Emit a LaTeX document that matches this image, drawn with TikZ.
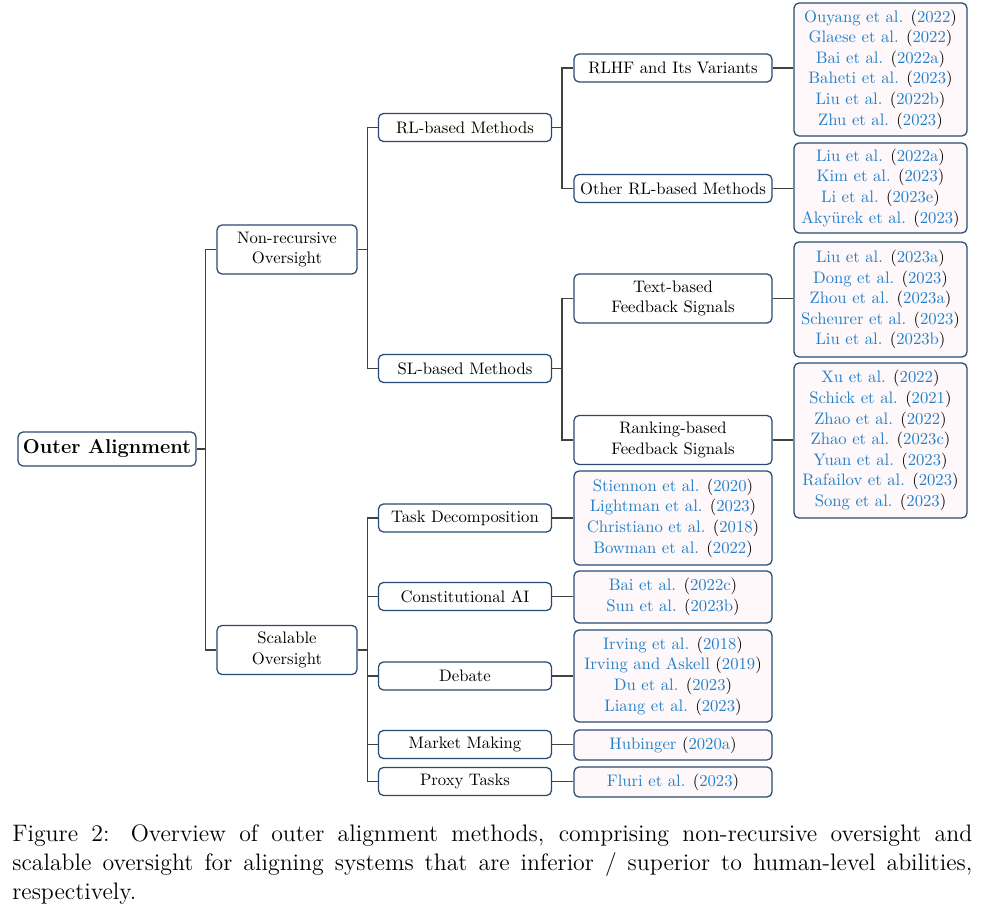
\documentclass[tikz,border=0pt]{standalone}
\usepackage{xcolor}
\definecolor{cb}{RGB}{35,128,200}
\definecolor{bd}{RGB}{40,75,115}
\definecolor{lf}{RGB}{254,248,250}
\definecolor{eg}{RGB}{65,65,65}
\newcommand{\ct}[2]{\textcolor{cb}{#1} (\textcolor{cb}{#2})}
\begin{document}
\begin{tikzpicture}[x=0.6pt,y=-0.6pt,
  every node/.style={font=\fontsize{10}{12.36}\selectfont},
  box/.style={draw=bd, line width=0.75pt, rounded corners=3pt, fill=white, align=center, inner sep=0pt},
  root/.style={box, minimum width=106.8pt, minimum height=20.4pt, font=\fontsize{12}{14}\selectfont\bfseries},
  lvone/.style={box, minimum width=84pt, minimum height=29.4pt},
  lvtwo/.style={box, minimum width=103.8pt, minimum height=16.8pt},
  lvthree/.style={box, minimum width=118.8pt},
  leafR/.style={box, fill=lf, minimum width=103.8pt},
  leafM/.style={box, fill=lf, minimum width=118.8pt},
  edge/.style={draw=eg, line width=0.8pt}
]
\useasboundingbox (0,0) rectangle (986,913);

% root and level 1
\node[root] (oa) at (107,449) {Outer Alignment};
\node[lvone] (nr) at (287,249.5) {Non-recursive\\Oversight};
\node[lvone] (so) at (287,650) {Scalable\\Oversight};

% level 2
\node[lvtwo] (rl) at (465,127.5) {RL-based Methods};
\node[lvtwo] (sl) at (465,368.5) {SL-based Methods};
\node[lvtwo] (td) at (465,518) {Task Decomposition};
\node[lvtwo] (ca) at (465,596.5) {Constitutional AI};
\node[lvtwo] (db) at (465,676) {Debate};
\node[lvtwo] (mm) at (465,744.5) {Market Making};
\node[lvtwo] (pt) at (465,781.5) {Proxy Tasks};

% level 3
\node[lvthree, minimum height=16.8pt] (rlhf) at (673,68) {RLHF and Its Variants};
\node[lvthree, minimum height=16.8pt] (orl) at (673,188.5) {Other RL-based Methods};
\node[lvthree, minimum height=29.4pt] (tb) at (673,298.5) {Text-based\\Feedback Signals};
\node[lvthree, minimum height=29.4pt] (rb) at (673,440) {Ranking-based\\Feedback Signals};

% leaves, right column
\node[leafR, minimum height=79.8pt] (l1) at (880.5,69.5) {\ct{Ouyang et al.}{2022}\\\ct{Glaese et al.}{2022}\\\ct{Bai et al.}{2022a}\\\ct{Baheti et al.}{2023}\\\ct{Liu et al.}{2022b}\\\ct{Zhu et al.}{2023}};
\node[leafR, minimum height=54pt] (l2) at (880.5,188) {\ct{Liu et al.}{2022a}\\\ct{Kim et al.}{2023}\\\ct{Li et al.}{2023e}\\\ct{Aky\"urek et al.}{2023}};
\node[leafR, minimum height=69pt] (l3) at (880.5,299.5) {\ct{Liu et al.}{2023a}\\\ct{Dong et al.}{2023}\\\ct{Zhou et al.}{2023a}\\\ct{Scheurer et al.}{2023}\\\ct{Liu et al.}{2023b}};
\node[leafR, minimum height=93pt] (l4) at (880.5,440.5) {\ct{Xu et al.}{2022}\\\ct{Schick et al.}{2021}\\\ct{Zhao et al.}{2022}\\\ct{Zhao et al.}{2023c}\\\ct{Yuan et al.}{2023}\\\ct{Rafailov et al.}{2023}\\\ct{Song et al.}{2023}};

% leaves, middle column
\node[leafM, minimum height=56.4pt] (l5) at (673,518) {\ct{Stiennon et al.}{2020}\\\ct{Lightman et al.}{2023}\\\ct{Christiano et al.}{2018}\\\ct{Bowman et al.}{2022}};
\node[leafM, minimum height=31.2pt] (l6) at (673,597) {\ct{Bai et al.}{2022c}\\\ct{Sun et al.}{2023b}};
\node[leafM, minimum height=55.2pt] (l7) at (673,676) {\ct{Irving et al.}{2018}\\\ct{Irving and Askell}{2019}\\\ct{Du et al.}{2023}\\\ct{Liang et al.}{2023}};
\node[leafM, minimum height=18pt] (l8) at (673,745) {\ct{Hubinger}{2020a}};
\node[leafM, minimum height=18pt] (l9) at (673,782) {\ct{Fluri et al.}{2023}};

% edges
\foreach \c in {nr,so} \draw[edge] (oa.east) -- ++(9,0) |- (\c.west);
\foreach \c in {rl,sl} \draw[edge] (nr.east) -- ++(10,0) |- (\c.west);
\foreach \c in {td,ca,db,mm,pt} \draw[edge] (so.east) -- ++(10,0) |- (\c.west);
\foreach \c in {rlhf,orl} \draw[edge] (rl.east) -- ++(10,0) |- (\c.west);
\foreach \c in {tb,rb} \draw[edge] (sl.east) -- ++(10,0) |- (\c.west);
\draw[edge] (rlhf.east) -- (rlhf.east -| l1.west);
\draw[edge] (orl.east) -- (orl.east -| l2.west);
\draw[edge] (tb.east) -- (tb.east -| l3.west);
\draw[edge] (rb.east) -- (rb.east -| l4.west);
\draw[edge] (td.east) -- (td.east -| l5.west);
\draw[edge] (ca.east) -- (ca.east -| l6.west);
\draw[edge] (db.east) -- (db.east -| l7.west);
\draw[edge] (mm.east) -- (mm.east -| l8.west);
\draw[edge] (pt.east) -- (pt.east -| l9.west);

% caption
\node[anchor=north west, inner sep=0pt, align=left, font=\fontsize{14.3}{17.4}\selectfont] (cap) at (12,824.5)
{\makebox[576pt][s]{Figure 2: Overview of outer alignment methods, comprising non-recursive oversight and}\\
\makebox[576pt][s]{scalable oversight for aligning systems that are inferior / superior to human-level abilities,}\\
respectively.};
\end{tikzpicture}
\end{document}
